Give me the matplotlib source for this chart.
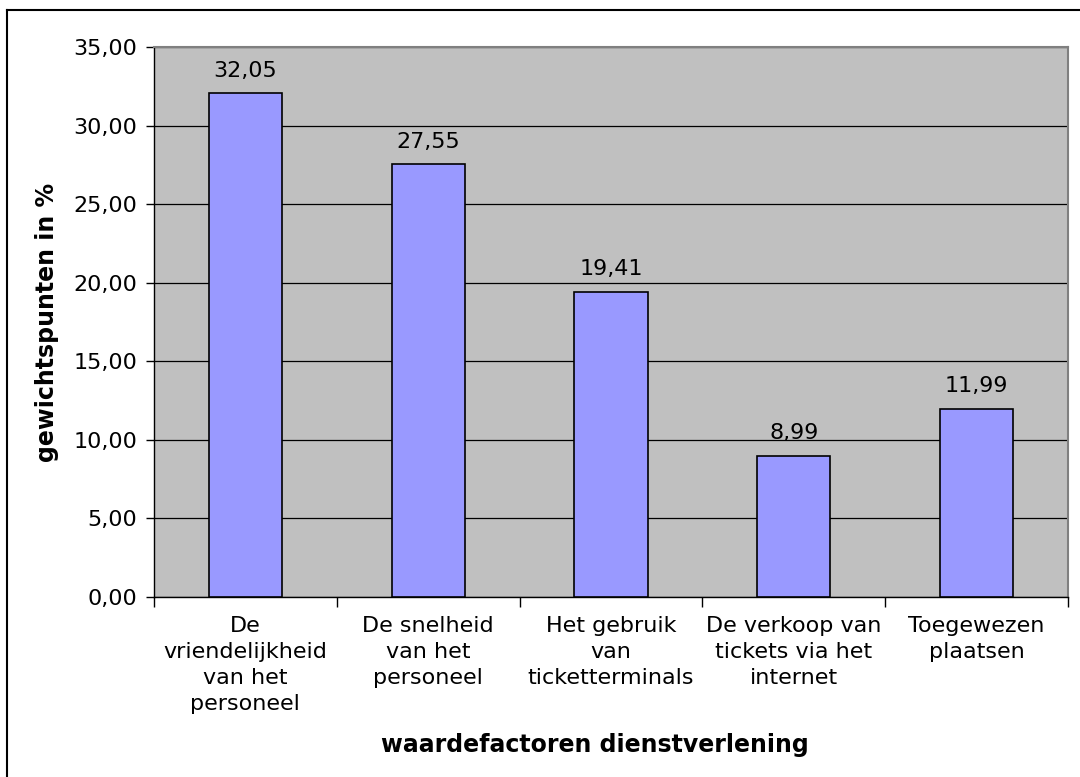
import matplotlib
matplotlib.use("Agg")
import matplotlib.pyplot as plt
from matplotlib.ticker import FixedLocator, FuncFormatter

categories = [
    "De\nvriendelijkheid\nvan het\npersoneel",
    "De snelheid\nvan het\npersoneel",
    "Het gebruik\nvan\nticketterminals",
    "De verkoop van\ntickets via het\ninternet",
    "Toegewezen\nplaatsen",
]
values = [32.05, 27.55, 19.41, 8.99, 11.99]
y_ticks = [0, 5, 10, 15, 20, 25, 30, 35]

plt.rcParams["font.family"] = ["DejaVu Sans"]

fig = plt.figure(figsize=(10.8, 7.77), dpi=100)
fig.patch.set_facecolor("white")

# outer chart frame (top and left edges visible)
fig.add_artist(plt.Line2D([7 / 1080, 7 / 1080], [0, 1 - 10 / 777],
                          transform=fig.transFigure, color="black", lw=1.5))
fig.add_artist(plt.Line2D([7 / 1080, 1], [1 - 10 / 777, 1 - 10 / 777],
                          transform=fig.transFigure, color="black", lw=1.5))

ax = fig.add_axes([154 / 1080, 1 - 597 / 777, 914 / 1080, 550 / 777])
ax.set_facecolor("#C0C0C0")

n = len(values)
centers = [i + 0.5 for i in range(n)]
ax.bar(centers, values, width=0.4, color="#9999FF", edgecolor="black",
       linewidth=1.2, zorder=3)

for x, v in zip(centers, values):
    ax.annotate(f"{v:.2f}".replace(".", ","), (x, v), xytext=(0, 9),
                textcoords="offset points", ha="center", va="bottom",
                fontsize=16, color="black")

ax.set_xlim(0, n)
ax.set_ylim(0, 35)

ax.yaxis.set_major_locator(FixedLocator(y_ticks))
ax.yaxis.set_major_formatter(FuncFormatter(lambda v, p: f"{v:.2f}".replace(".", ",")))
ax.yaxis.grid(True, color="black", linewidth=0.9, zorder=0)
ax.set_axisbelow(True)
ax.tick_params(axis="y", direction="out", length=6, width=1, labelsize=16,
               pad=6, colors="black")

ax.xaxis.set_major_locator(FixedLocator(list(range(n + 1))))
ax.xaxis.set_major_formatter(FuncFormatter(lambda v, p: ""))
ax.xaxis.set_minor_locator(FixedLocator(centers))
ax.set_xticklabels(categories, minor=True)
ax.tick_params(axis="x", which="major", direction="out", length=7, width=1)
ax.tick_params(axis="x", which="minor", length=0, labelsize=16, pad=14)
for lbl in ax.get_xticklabels(minor=True):
    lbl.set_linespacing(1.36)
    lbl.set_ha("center")

for side in ("top", "right"):
    ax.spines[side].set_color("#808080")
    ax.spines[side].set_linewidth(1.5)
for side in ("left", "bottom"):
    ax.spines[side].set_color("black")
    ax.spines[side].set_linewidth(1)

fig.text(595 / 1080, 1 - 745 / 777, "waardefactoren dienstverlening",
         ha="center", va="center", fontsize=17, fontweight="bold")
fig.text(47 / 1080, 1 - 322 / 777, "gewichtspunten in %", rotation=90,
         ha="center", va="center", fontsize=17, fontweight="bold")

fig.savefig("out.png", dpi=100, facecolor="white")
